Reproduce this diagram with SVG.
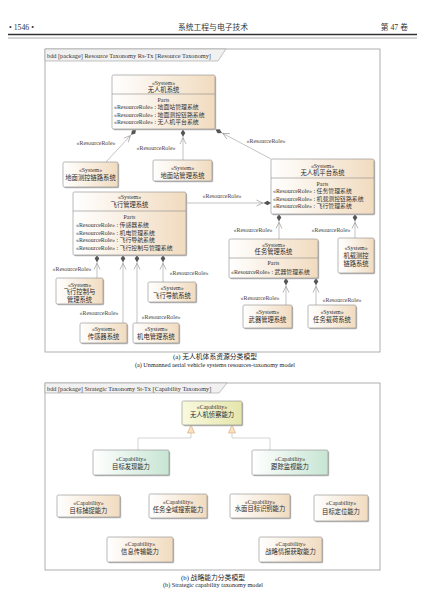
<svg xmlns="http://www.w3.org/2000/svg" width="427" height="609" viewBox="0 0 427 609">
<defs>
<style>
.bg{fill:#ffffff}
.frame{fill:none;stroke:#9c9c9c;stroke-width:0.8}
.tab{fill:#f1f1f1;stroke:#9c9c9c;stroke-width:0.6}
.box{stroke:#8a8a8a;stroke-width:0.6}
.pe{fill:url(#gPeach)}
.gr{fill:url(#gGreen)}
.ye{fill:url(#gYellow)}
.sh{fill:#b9b9b9}
.div{stroke:#8a8a8a;stroke-width:0.6}
.t{font-family:"Liberation Serif","Noto Sans CJK SC",serif;font-size:5.9px;fill:#333;text-anchor:middle}
.nm{font-size:6.3px;fill:#2a2a2a}
.l{text-anchor:start}
.ft{font-family:"Liberation Serif","Noto Sans CJK SC",serif;font-size:6.3px;fill:#333}
.hd{font-family:"Liberation Serif","Noto Sans CJK SC",serif;font-size:7.8px;fill:#333}
.cap{font-family:"Liberation Serif","Noto Sans CJK SC",serif;fill:#222;text-anchor:middle}
.edge{fill:none;stroke:#9a9a9a;stroke-width:0.6;marker-end:url(#comp)}
.gen{fill:none;stroke:#c2c2c2;stroke-width:0.7;marker-end:url(#tri)}
.lbl{font-family:"Liberation Serif",serif;font-size:5.9px;fill:#444;text-anchor:middle}
</style>
<linearGradient id="gPeach" x1="0" y1="0" x2="1" y2="0">
<stop offset="0" stop-color="#ffffff"/><stop offset="1" stop-color="#f1dbbf"/>
</linearGradient>
<linearGradient id="gGreen" x1="0" y1="0" x2="1" y2="0">
<stop offset="0" stop-color="#ffffff"/><stop offset="1" stop-color="#c7e5d3"/>
</linearGradient>
<linearGradient id="gYellow" x1="0" y1="0" x2="1" y2="0">
<stop offset="0" stop-color="#f9f9df"/><stop offset="1" stop-color="#e5e6ac"/>
</linearGradient>
<marker id="comp" markerUnits="userSpaceOnUse" orient="auto" overflow="visible" refX="0" refY="0" markerWidth="16" markerHeight="8">
<path d="M0,0 L-3.6,-2.3 L-7.2,0 L-3.6,2.3 Z" fill="#555"/>
<path d="M-14.5,-3 L-8.3,0 L-14.5,3" fill="none" stroke="#8a8a8a" stroke-width="0.6"/>
</marker>
<marker id="tri" markerUnits="userSpaceOnUse" orient="auto" overflow="visible" refX="0" refY="0" markerWidth="10" markerHeight="10">
<path d="M0,0 L-8,-3.5 L-8,3.5 Z" fill="#fbe1c2" stroke="#cfa474" stroke-width="0.6"/>
</marker>
</defs>
<rect class="bg" x="0" y="0" width="427" height="609"/>

<g id="header">
<text class="hd" x="9" y="30">• 1546 •</text>
<text class="hd" x="213" y="30" text-anchor="middle">系统工程与电子技术</text>
<text class="hd" x="408" y="30" text-anchor="end">第 47 卷</text>
<line x1="8" y1="34.5" x2="417" y2="34.5" stroke="#333" stroke-width="1.4"/>
<line x1="8" y1="38" x2="417" y2="38" stroke="#555" stroke-width="0.5"/>
</g>

<!-- Frame (a) -->
<g id="frame-a">
<rect class="frame" x="45" y="49" width="335" height="303"/>
<polygon class="tab" points="45,49 226,49 218,61 45,61"/>
<text class="ft" x="47" y="57.5">bdd [package] Resource Taxonomy Rs-Tx [Resource Taxonomy]</text>
</g>

<g id="connectors-a">
<path class="edge" d="M106,162 L136,129.5"/>
<text class="lbl" x="96" y="145">«ResourceRole»</text>
<path class="edge" d="M183,160 V129.5"/>
<text class="lbl" x="156" y="150">«ResourceRole»</text>
<path class="edge" d="M271,159 L215.5,129.5"/>
<text class="lbl" x="266" y="143">«ResourceRole»</text>
<path class="edge" d="M186,203 H271"/>
<text class="lbl" x="222" y="198">«ResourceRole»</text>
<path class="edge" d="M97,278 V255"/>
<text class="lbl" x="72" y="271">«ResourceRole»</text>
<path class="edge" d="M123,323 V255"/>
<text class="lbl" x="99" y="315">«ResourceRole»</text>
<path class="edge" d="M137,323 V255"/>
<text class="lbl" x="161" y="319">«ResourceRole»</text>
<path class="edge" d="M163,282 V255"/>
<text class="lbl" x="189" y="275">«ResourceRole»</text>
<path class="edge" d="M279,239 V214"/>
<text class="lbl" x="253" y="232">«ResourceRole»</text>
<path class="edge" d="M355,238 V214"/>
<text class="lbl" x="331" y="232">«ResourceRole»</text>
<path class="edge" d="M286,305 V278"/>
<text class="lbl" x="260" y="300">«ResourceRole»</text>
<path class="edge" d="M316,305 V278"/>
<text class="lbl" x="342" y="302">«ResourceRole»</text>
</g>

<g id="n-uav-system">
<rect class="sh" x="113.2" y="76.2" width="103" height="54" rx="1.5"/>
<rect class="box pe" x="112" y="75" width="103" height="54" rx="1.5"/>
<line class="div" x1="112" y1="94" x2="215" y2="94"/>
<text class="t" x="163.5" y="84.7">«System»</text>
<text class="t nm" x="163.5" y="91.5">无人机系统</text>
<text class="t" x="163.5" y="102">Parts</text>
<text class="t l" x="114" y="109.2">«ResourceRole» : 地面站管理系统</text>
<text class="t l" x="114" y="116.7">«ResourceRole» : 地面测控链路系统</text>
<text class="t l" x="114" y="124.2">«ResourceRole» : 无人机平台系统</text>
</g>

<g id="n-ground-link">
<rect class="sh" x="64.2" y="163.2" width="55" height="25" rx="1.5"/>
<rect class="box pe" x="63" y="162" width="55" height="25" rx="1.5"/>
<text class="t" x="90.5" y="171.5">«System»</text>
<text class="t nm" x="90.5" y="179.5">地面测控链路系统</text>
</g>

<g id="n-ground-station">
<rect class="sh" x="154.2" y="161.2" width="59" height="21" rx="1.5"/>
<rect class="box pe" x="153" y="160" width="59" height="21" rx="1.5"/>
<text class="t" x="182.5" y="169.5">«System»</text>
<text class="t nm" x="182.5" y="177.5">地面站管理系统</text>
</g>

<g id="n-platform">
<rect class="sh" x="272.2" y="160.2" width="103" height="55" rx="1.5"/>
<rect class="box pe" x="271" y="159" width="103" height="55" rx="1.5"/>
<line class="div" x1="271" y1="178" x2="374" y2="178"/>
<text class="t" x="322.5" y="168">«System»</text>
<text class="t nm" x="322.5" y="175.2">无人机平台系统</text>
<text class="t" x="322.5" y="185.5">Parts</text>
<text class="t l" x="273" y="193.2">«ResourceRole» : 任务管理系统</text>
<text class="t l" x="273" y="200.7">«ResourceRole» : 机载测控链路系统</text>
<text class="t l" x="273" y="208.2">«ResourceRole» : 飞行管理系统</text>
</g>

<g id="n-flight-mgmt">
<rect class="sh" x="74.2" y="193.2" width="113" height="63" rx="1.5"/>
<rect class="box pe" x="73" y="192" width="113" height="63" rx="1.5"/>
<line class="div" x1="73" y1="211" x2="186" y2="211"/>
<text class="t" x="129.5" y="199.2">«System»</text>
<text class="t nm" x="129.5" y="206.5">飞行管理系统</text>
<text class="t" x="129.5" y="219">Parts</text>
<text class="t l" x="76" y="227">«ResourceRole» : 传感器系统</text>
<text class="t l" x="76" y="234.7">«ResourceRole» : 机电管理系统</text>
<text class="t l" x="76" y="242.4">«ResourceRole» : 飞行导航系统</text>
<text class="t l" x="76" y="250.1">«ResourceRole» : 飞行控制与管理系统</text>
</g>

<g id="n-mission-mgmt">
<rect class="sh" x="230.2" y="240.2" width="89" height="39" rx="1.5"/>
<rect class="box pe" x="229" y="239" width="89" height="39" rx="1.5"/>
<line class="div" x1="229" y1="258" x2="318" y2="258"/>
<text class="t" x="273.5" y="247">«System»</text>
<text class="t nm" x="273.5" y="254.3">任务管理系统</text>
<text class="t" x="273.5" y="265">Parts</text>
<text class="t l" x="231" y="274">«ResourceRole» : 武器管理系统</text>
</g>

<g id="n-airborne-link">
<rect class="sh" x="339.2" y="239.2" width="36" height="35" rx="1.5"/>
<rect class="box pe" x="338" y="238" width="36" height="35" rx="1.5"/>
<text class="t" x="356" y="250">«System»</text>
<text class="t nm" x="356" y="258.2">机载测控</text>
<text class="t nm" x="356" y="266.2">链路系统</text>
</g>

<g id="n-flight-control">
<rect class="sh" x="57.2" y="279.2" width="47" height="26" rx="1.5"/>
<rect class="box pe" x="56" y="278" width="47" height="26" rx="1.5"/>
<text class="t" x="79.5" y="286.7">«System»</text>
<text class="t nm" x="79.5" y="294.2">飞行控制与</text>
<text class="t nm" x="79.5" y="301.5">管理系统</text>
</g>

<g id="n-flight-nav">
<rect class="sh" x="149.2" y="283.2" width="48" height="20" rx="1.5"/>
<rect class="box pe" x="148" y="282" width="48" height="20" rx="1.5"/>
<text class="t" x="172" y="289.5">«System»</text>
<text class="t nm" x="172" y="297.5">飞行导航系统</text>
</g>

<g id="n-sensor">
<rect class="sh" x="81.2" y="324.2" width="47" height="20" rx="1.5"/>
<rect class="box pe" x="80" y="323" width="47" height="20" rx="1.5"/>
<text class="t" x="103.5" y="331">«System»</text>
<text class="t nm" x="103.5" y="338.8">传感器系统</text>
</g>

<g id="n-electromech">
<rect class="sh" x="134.2" y="324.2" width="46" height="20" rx="1.5"/>
<rect class="box pe" x="133" y="323" width="46" height="20" rx="1.5"/>
<text class="t" x="156" y="331">«System»</text>
<text class="t nm" x="156" y="338.8">机电管理系统</text>
</g>

<g id="n-weapon">
<rect class="sh" x="244.2" y="306.2" width="49" height="23" rx="1.5"/>
<rect class="box pe" x="243" y="305" width="49" height="23" rx="1.5"/>
<text class="t" x="267.5" y="314">«System»</text>
<text class="t nm" x="267.5" y="322.2">武器管理系统</text>
</g>

<g id="n-payload">
<rect class="sh" x="309.2" y="306.2" width="48" height="23" rx="1.5"/>
<rect class="box pe" x="308" y="305" width="48" height="23" rx="1.5"/>
<text class="t" x="332" y="314">«System»</text>
<text class="t nm" x="332" y="322.2">任务载荷系统</text>
</g>

<g id="caption-a">
<text class="cap" x="215" y="359" font-size="6.8">(a) 无人机体系资源分类模型</text>
<text class="cap" x="215" y="366.5" font-size="6.2">(a) Unmanned aerial vehicle systems resources-taxonomy model</text>
</g>

<!-- Frame (b) -->
<g id="frame-b">
<rect class="frame" x="45" y="383" width="335" height="187"/>
<polygon class="tab" points="45,383 227,383 219,393 45,393"/>
<text class="ft" x="47" y="390.5">bdd [package] Strategic Taxonomy St-Tx [Capability Taxonomy]</text>
</g>

<g id="connectors-b">
<path class="gen" d="M138,450 V438 H191 V425"/>
<path class="gen" d="M270,450 V438 H232 V425"/>
</g>

<g id="c-recon">
<rect class="sh" x="183.2" y="402.2" width="60" height="24" rx="1.5"/>
<rect class="box ye" x="182" y="401" width="60" height="24" rx="1.5"/>
<text class="t" x="212" y="409.3">«Capability»</text>
<text class="t nm" x="212" y="416.7">无人机侦察能力</text>
</g>

<g id="c-discover">
<rect class="sh" x="94.2" y="451.2" width="76" height="25" rx="1.5"/>
<rect class="box gr" x="93" y="450" width="76" height="25" rx="1.5"/>
<text class="t" x="131" y="461">«Capability»</text>
<text class="t nm" x="131" y="468.5">目标发现能力</text>
</g>

<g id="c-track">
<rect class="sh" x="253.2" y="451.2" width="76" height="25" rx="1.5"/>
<rect class="box gr" x="252" y="450" width="76" height="25" rx="1.5"/>
<text class="t" x="290" y="461">«Capability»</text>
<text class="t nm" x="290" y="468.5">跟踪监视能力</text>
</g>

<g id="c-capture">
<rect class="sh" x="58.2" y="496.2" width="63" height="22" rx="1.5"/>
<rect class="box pe" x="57" y="495" width="63" height="22" rx="1.5"/>
<text class="t" x="88.5" y="504.5">«Capability»</text>
<text class="t nm" x="88.5" y="512.5">目标捕捉能力</text>
</g>

<g id="c-search">
<rect class="sh" x="150.2" y="495.2" width="58" height="24" rx="1.5"/>
<rect class="box pe" x="149" y="494" width="58" height="24" rx="1.5"/>
<text class="t" x="178" y="504">«Capability»</text>
<text class="t nm" x="178" y="511.8">任务全域搜索能力</text>
</g>

<g id="c-identify">
<rect class="sh" x="231.2" y="495.2" width="60" height="24" rx="1.5"/>
<rect class="box pe" x="230" y="494" width="60" height="24" rx="1.5"/>
<text class="t" x="260" y="503.5">«Capability»</text>
<text class="t nm" x="260" y="511.3">水面目标识别能力</text>
</g>

<g id="c-locate">
<rect class="sh" x="315.2" y="496.2" width="54" height="26" rx="1.5"/>
<rect class="box pe" x="314" y="495" width="54" height="26" rx="1.5"/>
<text class="t" x="341" y="505.3">«Capability»</text>
<text class="t nm" x="341" y="513.5">目标定位能力</text>
</g>

<g id="c-transmit">
<rect class="sh" x="108.2" y="538.2" width="66" height="25" rx="1.5"/>
<rect class="box pe" x="107" y="537" width="66" height="25" rx="1.5"/>
<text class="t" x="140" y="546.3">«Capability»</text>
<text class="t nm" x="140" y="554.3">信息传输能力</text>
</g>

<g id="c-intel">
<rect class="sh" x="260.2" y="538.2" width="63" height="25" rx="1.5"/>
<rect class="box pe" x="259" y="537" width="63" height="25" rx="1.5"/>
<text class="t" x="290.5" y="546.3">«Capability»</text>
<text class="t nm" x="290.5" y="554.3">战略情报获取能力</text>
</g>

<g id="caption-b">
<text class="cap" x="213" y="579.5" font-size="6.8">(b) 战略能力分类模型</text>
<text class="cap" x="213" y="587" font-size="6.2">(b) Strategic capability taxonomy model</text>
</g>
</svg>
